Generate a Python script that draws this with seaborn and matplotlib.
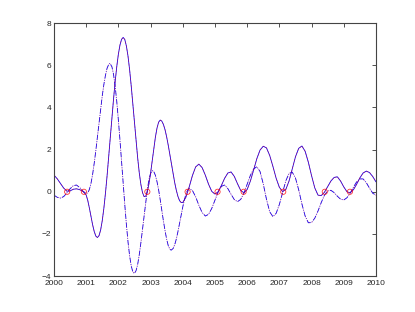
"""
Two oscillating series 2000-2010 with their crossing points marked.
"""

import numpy as np
import pandas as pd
from matplotlib import pyplot as plt
import seaborn as sns

# === Data ===

years = np.round(np.arange(2000.0, 2010.05, 0.1), 1)

solid_vals = [
    0.79, 0.62, 0.40, 0.18, 0.03, 0.04, 0.12, 0.14, 0.10, 0.02,   # 2000
    -0.15, -0.77, -1.56, -2.10, -2.08, -1.37, -0.06, 1.65, 3.50, 5.21,  # 2001
    6.52, 7.23, 7.22, 6.43, 5.01, 3.27, 1.60, 0.34, -0.23, 0.00,  # 2002
    0.88, 2.05, 3.02, 3.40, 3.19, 2.60, 1.76, 0.85, 0.07, -0.42,  # 2003
    -0.51, -0.25, 0.23, 0.77, 1.18, 1.31, 1.15, 0.79, 0.36, 0.02,  # 2004
    -0.11, 0.00, 0.30, 0.64, 0.89, 0.94, 0.73, 0.38, 0.06, -0.05,  # 2005
    0.11, 0.51, 1.03, 1.57, 1.98, 2.16, 2.08, 1.72, 1.20, 0.64,   # 2006
    0.21, 0.01, 0.11, 0.51, 1.09, 1.66, 2.06, 2.17, 1.92, 1.40,   # 2007
    0.76, 0.18, -0.16, -0.18, -0.02, 0.24, 0.51, 0.68, 0.71, 0.51,  # 2008
    0.23, 0.00, -0.05, 0.10, 0.36, 0.66, 0.89, 0.98, 0.91, 0.72,  # 2009
    0.47,
]

# extra readings where the solid curve moves fast
solid_extra_years = [2001.05, 2001.15, 2001.25, 2001.35, 2001.45, 2001.55, 2001.65,
                     2001.75, 2001.85, 2001.95, 2002.05, 2002.15, 2002.25, 2002.35,
                     2002.45, 2002.55, 2002.65, 2002.75, 2002.85, 2002.95, 2003.05,
                     2003.15, 2003.25, 2003.35, 2003.45, 2003.55, 2003.65, 2003.75,
                     2003.85, 2003.95]
solid_extra_vals = [-0.41, -1.17, -1.88, -2.17, -1.81, -0.78, 0.76,
                    2.58, 4.39, 5.93, 6.96, 7.32, 6.91, 5.78,
                    4.15, 2.41, 0.89, -0.04, -0.21, 0.38, 1.46,
                    2.59, 3.30, 3.35, 2.94, 2.20, 1.30, 0.43,
                    -0.22, -0.51]

dashdot_vals = [
    -0.16, -0.26, -0.30, -0.23, -0.06, 0.14, 0.29, 0.32, 0.20, 0.03,  # 2000
    -0.08, 0.11, 0.82, 1.95, 3.27, 4.55, 5.53, 6.04, 5.93, 5.01,     # 2001
    3.41, 1.42, -0.62, -2.38, -3.52, -3.87, -3.44, -2.41, -1.10, 0.11,  # 2002
    0.87, 0.96, 0.48, -0.38, -1.39, -2.25, -2.73, -2.69, -2.24, -1.50,  # 2003
    -0.72, -0.10, 0.16, 0.06, -0.24, -0.64, -0.98, -1.15, -1.07, -0.79,  # 2004
    -0.39, 0.00, 0.26, 0.32, 0.15, -0.12, -0.37, -0.47, -0.36, -0.06,  # 2005
    0.36, 0.78, 1.08, 1.19, 0.96, 0.37, -0.36, -0.95, -1.18, -1.02,  # 2006
    -0.60, -0.03, 0.52, 0.87, 0.93, 0.65, 0.09, -0.58, -1.15, -1.47,  # 2007
    -1.46, -1.25, -0.91, -0.51, -0.16, 0.04, 0.07, -0.04, -0.21, -0.35,  # 2008
    -0.39, -0.28, -0.06, 0.22, 0.47, 0.61, 0.61, 0.43, 0.17, -0.07,  # 2009
    -0.16,
]

dashdot_extra_years = [2001.05, 2001.15, 2001.25, 2001.35, 2001.45, 2001.55, 2001.65,
                       2001.74, 2001.85, 2001.95, 2002.05, 2002.15, 2002.25, 2002.35,
                       2002.45, 2002.49, 2002.55, 2002.65, 2002.75, 2002.85, 2002.95,
                       2003.06, 2003.15, 2003.25, 2003.35, 2003.45, 2003.55, 2003.64,
                       2003.75, 2003.85, 2003.95, 2004.05, 2004.15]
dashdot_extra_vals = [-0.05, 0.40, 1.35, 2.60, 3.93, 5.09, 5.86,
                      6.09, 5.57, 4.29, 2.45, 0.38, -1.56, -3.04,
                      -3.80, -3.87, -3.74, -2.98, -1.77, -0.46, 0.57,
                      1.00, 0.78, 0.09, -0.89, -1.85, -2.56, -2.77,
                      -2.51, -1.89, -1.10, -0.38, 0.08]

cross_years = [2000.41, 2000.93, 2002.90, 2004.15, 2005.08, 2005.89, 2007.12, 2008.41, 2009.19]
cross_vals = [0.0, 0.0, 0.0, 0.0, 0.0, 0.0, 0.0, 0.0, 0.0]

xticks = list(range(2000, 2011))
yticks = [-4, -2, 0, 2, 4, 6, 8]


# === Plot ===

def main():
    solid = pd.DataFrame({"year": list(years) + solid_extra_years,
                          "val": solid_vals + solid_extra_vals})
    solid = solid.drop_duplicates("year").sort_values("year")
    dash = pd.DataFrame({"year": list(years) + dashdot_extra_years,
                         "val": dashdot_vals + dashdot_extra_vals})
    dash = dash.drop_duplicates("year").sort_values("year")
    cross = pd.DataFrame({"year": cross_years, "val": cross_vals})

    sns.set_style("white")
    plt.rcParams["font.family"] = ["Liberation Sans", "DejaVu Sans"]

    fig = plt.figure(figsize=(4.15, 3.12), dpi=100)
    ax = fig.add_axes([0.13, 0.115, 0.776, 0.811])

    #== blue curves with red dashed copies on top
    sns.lineplot(data=solid, x="year", y="val", ax=ax, color="blue", lw=0.6,
                 estimator=None, sort=False)
    sns.lineplot(data=dash, x="year", y="val", ax=ax, color="blue", lw=0.6,
                 estimator=None, sort=False, linestyle="-.")
    sns.lineplot(data=solid, x="year", y="val", ax=ax, color="red", lw=0.5,
                 estimator=None, sort=False, linestyle="--", alpha=0.5)
    sns.lineplot(data=dash, x="year", y="val", ax=ax, color="red", lw=0.5,
                 estimator=None, sort=False, linestyle=":", alpha=0.5)
    #== crossing points
    sns.scatterplot(data=cross, x="year", y="val", ax=ax, marker="o", s=14,
                    facecolor="none", edgecolor="red", linewidth=0.6, alpha=0.8,
                    zorder=5)

    ax.set_xlim(2000, 2010)
    ax.set_ylim(-4, 8)
    ax.set_xticks(xticks)
    ax.set_yticks(yticks)
    ax.set_xticklabels([str(t) for t in xticks])
    ax.set_yticklabels([str(t).replace("-", "\u2212") for t in yticks])
    ax.set_xlabel("")
    ax.set_ylabel("")
    ax.tick_params(direction="in", length=3, width=0.6, color="#333333",
                   labelsize=6, top=True, right=True)
    ax.tick_params(axis="x", pad=3)
    ax.tick_params(axis="y", pad=2)
    for sp in ax.spines.values():
        sp.set_visible(True)
        sp.set_color("#444444")
        sp.set_linewidth(0.8)

    fig.savefig("out.png", dpi=100)
    plt.close()


main()
